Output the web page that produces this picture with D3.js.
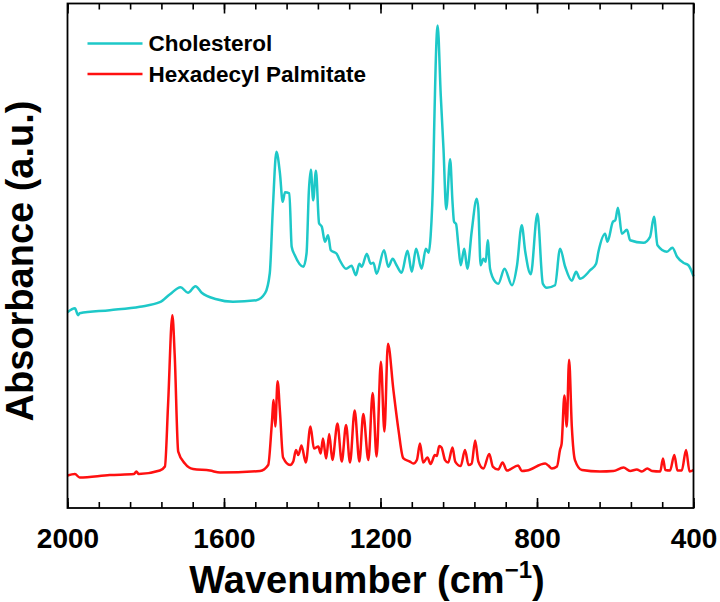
<!DOCTYPE html>
<html>
<head>
<meta charset="utf-8">
<script src="https://cdn.jsdelivr.net/npm/d3@7"></script>
<style>
  body { margin: 0; background: #fff; }
  svg { display: block; font-family: "Liberation Sans", Arial, sans-serif; font-weight: bold; }
</style>
</head>
<body>
<svg width="720" height="602"></svg>
<script>
// spectra: [wavenumber (cm-1), absorbance (a.u.)]
var cholesterol = [
  [2000, 39.2], [1981, 40], [1973, 38.6], [1969, 39], [1892, 39.6], [1815, 40.3],
  [1764, 41.2], [1738, 42.8], [1711, 44.2], [1692, 43.1], [1673, 44.4], [1657, 43.1],
  [1619, 41.8], [1577, 41.3], [1517, 41.6], [1495, 43], [1483, 47], [1475, 60.2],
  [1466, 71.3], [1457, 67], [1450, 61.3], [1444, 63.2], [1433, 63], [1427, 52.3],
  [1419, 50.6], [1397, 48.3], [1389, 51], [1383, 63.6], [1378, 67.7], [1372, 61.6],
  [1365, 67.5], [1357, 57], [1350, 56.3], [1342, 53.3], [1334, 54.6], [1327, 51.6],
  [1312, 50.9], [1304, 49.6], [1288, 47.9], [1274, 48.5], [1263, 46.6], [1254, 48.9],
  [1248, 48.3], [1235, 50.9], [1225, 48.9], [1218, 49.1], [1210, 46.9], [1191, 51.6],
  [1180, 48.3], [1169, 49.9], [1159, 48.6], [1146, 47.1], [1131, 51.5], [1120, 47.3],
  [1109, 51.9], [1095, 47.9], [1084, 51.9], [1077, 51.1], [1072, 54.3], [1065, 67.6],
  [1063, 75.3], [1054, 96.6], [1046, 82.6], [1039, 71.9], [1032, 59.8], [1022, 69.8],
  [1016, 61.3], [1012, 57.3], [1007, 56.9], [1001, 52.6], [995, 48.6], [986, 51.9],
  [978, 47.9], [967, 55.3], [954, 61.9], [950, 59.9], [944, 48.6], [937, 49.9],
  [931, 49.3], [926, 53.6], [920, 47.9], [907, 45.3], [899, 44.9], [883, 47.9],
  [864, 44.6], [851, 48.6], [839, 56.6], [830, 51.3], [816, 46.8], [799, 58.9],
  [785, 44.9], [775, 44.1], [754, 44.6], [741, 51.9], [728, 48.3], [711, 45.5],
  [700, 47.3], [690, 45.9], [664, 47.6], [649, 48.9], [643, 51.3], [626, 54.9],
  [620, 53.3], [606, 57.3], [600, 57.6], [593, 60.1], [583, 54.9], [570, 55.7],
  [562, 53.6], [528, 53.1], [511, 54.3], [501, 58.3], [492, 52.6], [468, 51.3],
  [454, 52.1], [442, 50.3], [426, 49.1], [413, 48.6], [400, 46.4]
];

var hexadecylPalmitate = [
  [2000, 6.5], [1981, 6.8], [1969, 6.1], [1892, 6.6], [1830, 6.8], [1824, 7.3],
  [1818, 6.8], [1764, 7.5], [1751, 8.3], [1743, 20.6], [1732, 38.6], [1726, 30.6],
  [1717, 11.3], [1700, 8.9], [1679, 7.8], [1636, 7.5], [1610, 7.1], [1508, 7.4],
  [1487, 8.6], [1478, 16.6], [1473, 21.6], [1469, 16.3], [1463, 25.4], [1457, 19.3],
  [1449, 10.1], [1431, 8.6], [1423, 9.3], [1416, 11.6], [1410, 10.6], [1402, 12.5],
  [1391, 9.1], [1379, 16.3], [1370, 11.9], [1359, 12.3], [1353, 10.9], [1347, 13.9],
  [1339, 9.9], [1331, 14.8], [1323, 9.6], [1310, 16.9], [1299, 9.3], [1288, 16.6],
  [1278, 9.1], [1266, 19.5], [1254, 9.3], [1244, 18.8], [1231, 9.6], [1220, 23],
  [1210, 10.3], [1199, 29.3], [1190, 15.3], [1181, 32.9], [1167, 23.6], [1154, 15.6],
  [1142, 10], [1125, 9.3], [1116, 8.9], [1107, 9.6], [1099, 12.9], [1091, 9.1],
  [1080, 10.1], [1072, 8.8], [1061, 10.6], [1056, 10.4], [1050, 12.4], [1044, 12.1],
  [1035, 9.6], [1027, 9.1], [1016, 12.1], [1009, 9.3], [995, 8.4], [984, 11.6],
  [975, 8.6], [967, 8.9], [958, 13.5], [950, 9.3], [937, 7.9], [922, 10.8],
  [913, 8.3], [899, 7.7], [888, 9.1], [877, 7.5], [848, 8.5], [839, 7.4],
  [826, 7.5], [779, 8.9], [771, 8.5], [762, 7.9], [749, 8.3], [741, 11.7],
  [737, 12.9], [730, 22.5], [724, 16.3], [718, 29.7], [711, 16.3], [703, 9.6],
  [685, 7.6], [639, 7.3], [605, 7.4], [579, 8.1], [562, 7.4], [545, 7.7],
  [532, 7.3], [518, 7.9], [506, 7.4], [485, 7.3], [478, 9.9], [472, 7.6],
  [460, 7.5], [449, 10.6], [441, 7.5], [430, 7.5], [419, 11.6], [410, 7.3], [400, 7.6]
];

var seriesNames = ["Cholesterol", "Hexadecyl Palmitate"];
var seriesColors = ["#1ec8c8", "#ff1010"];
var majorTicks = [2000, 1600, 1200, 800, 400];
var minorTicks = d3.range(400, 2001, 80);

var svg = d3.select("svg"),
    margin = {top: 3.5, right: 26.5, bottom: 94, left: 67.5},
    width = +svg.attr("width") - margin.left - margin.right,
    height = +svg.attr("height") - margin.top - margin.bottom;

var g = svg.append("g")
    .attr("transform", "translate(" + margin.left + "," + margin.top + ")");

var x = d3.scaleLinear()
    .domain([2000, 400])
    .range([0, width]);

var y = d3.scaleLinear()
    .domain([0, 101])
    .range([height, 0]);

var line = d3.line()
    .curve(d3.curveMonotoneX)
    .x(function(d) { return x(d[0]); })
    .y(function(d) { return y(d[1]); });

// minor ticks, bottom and top
g.append("g")
    .attr("transform", "translate(0," + height + ")")
    .call(d3.axisBottom(x).tickValues(minorTicks).tickSize(-6).tickFormat(""));
g.append("g")
    .call(d3.axisTop(x).tickValues(minorTicks).tickSize(-6).tickFormat(""));

// major ticks
g.append("g")
    .attr("class", "xaxis")
    .attr("transform", "translate(0," + height + ")")
    .call(d3.axisBottom(x).tickValues(majorTicks).tickSize(-10).tickPadding(20)
      .tickFormat(d3.format("d")));
g.append("g")
    .call(d3.axisTop(x).tickValues(majorTicks).tickSize(-10).tickFormat(""));

g.selectAll(".domain").remove();
g.selectAll(".tick line").attr("stroke", "#000").attr("stroke-width", 1.6);
g.selectAll(".xaxis text")
    .attr("fill", "#000")
    .style("font-size", "28px")
    .style("font-weight", "bold");

// spectra
g.append("path")
    .datum(cholesterol)
    .attr("fill", "none")
    .attr("stroke", seriesColors[0])
    .attr("stroke-width", 2.5)
    .attr("stroke-linejoin", "round")
    .attr("d", line);

g.append("path")
    .datum(hexadecylPalmitate)
    .attr("fill", "none")
    .attr("stroke", seriesColors[1])
    .attr("stroke-width", 2.5)
    .attr("stroke-linejoin", "round")
    .attr("d", line);

// frame
g.append("rect")
    .attr("width", width)
    .attr("height", height)
    .attr("fill", "none")
    .attr("stroke", "#000")
    .attr("stroke-width", 1.8);

// legend
var legend = g.selectAll(".legend")
    .data(seriesNames)
    .enter().append("g")
    .attr("transform", function(d, i) { return "translate(20," + (40 + i * 30.5) + ")"; });

legend.append("line")
    .attr("x1", 0).attr("x2", 55)
    .attr("stroke", function(d, i) { return seriesColors[i]; })
    .attr("stroke-width", 2.5);

legend.append("text")
    .attr("x", 61)
    .attr("dy", "0.35em")
    .style("font-size", "22.5px")
    .text(function(d) { return d; });

// axis titles
var xt = svg.append("text")
    .attr("x", 367)
    .attr("y", 593)
    .attr("text-anchor", "middle")
    .style("font-size", "38px");
xt.append("tspan").text("Wavenumber (cm");
xt.append("tspan").attr("dy", -15).style("font-size", "24px").text("\u22121");
xt.append("tspan").attr("dy", 15).text(")");

svg.append("text")
    .attr("transform", "translate(33,261) rotate(-90)")
    .attr("text-anchor", "middle")
    .style("font-size", "38px")
    .text("Absorbance (a.u.)");
</script>
</body>
</html>
